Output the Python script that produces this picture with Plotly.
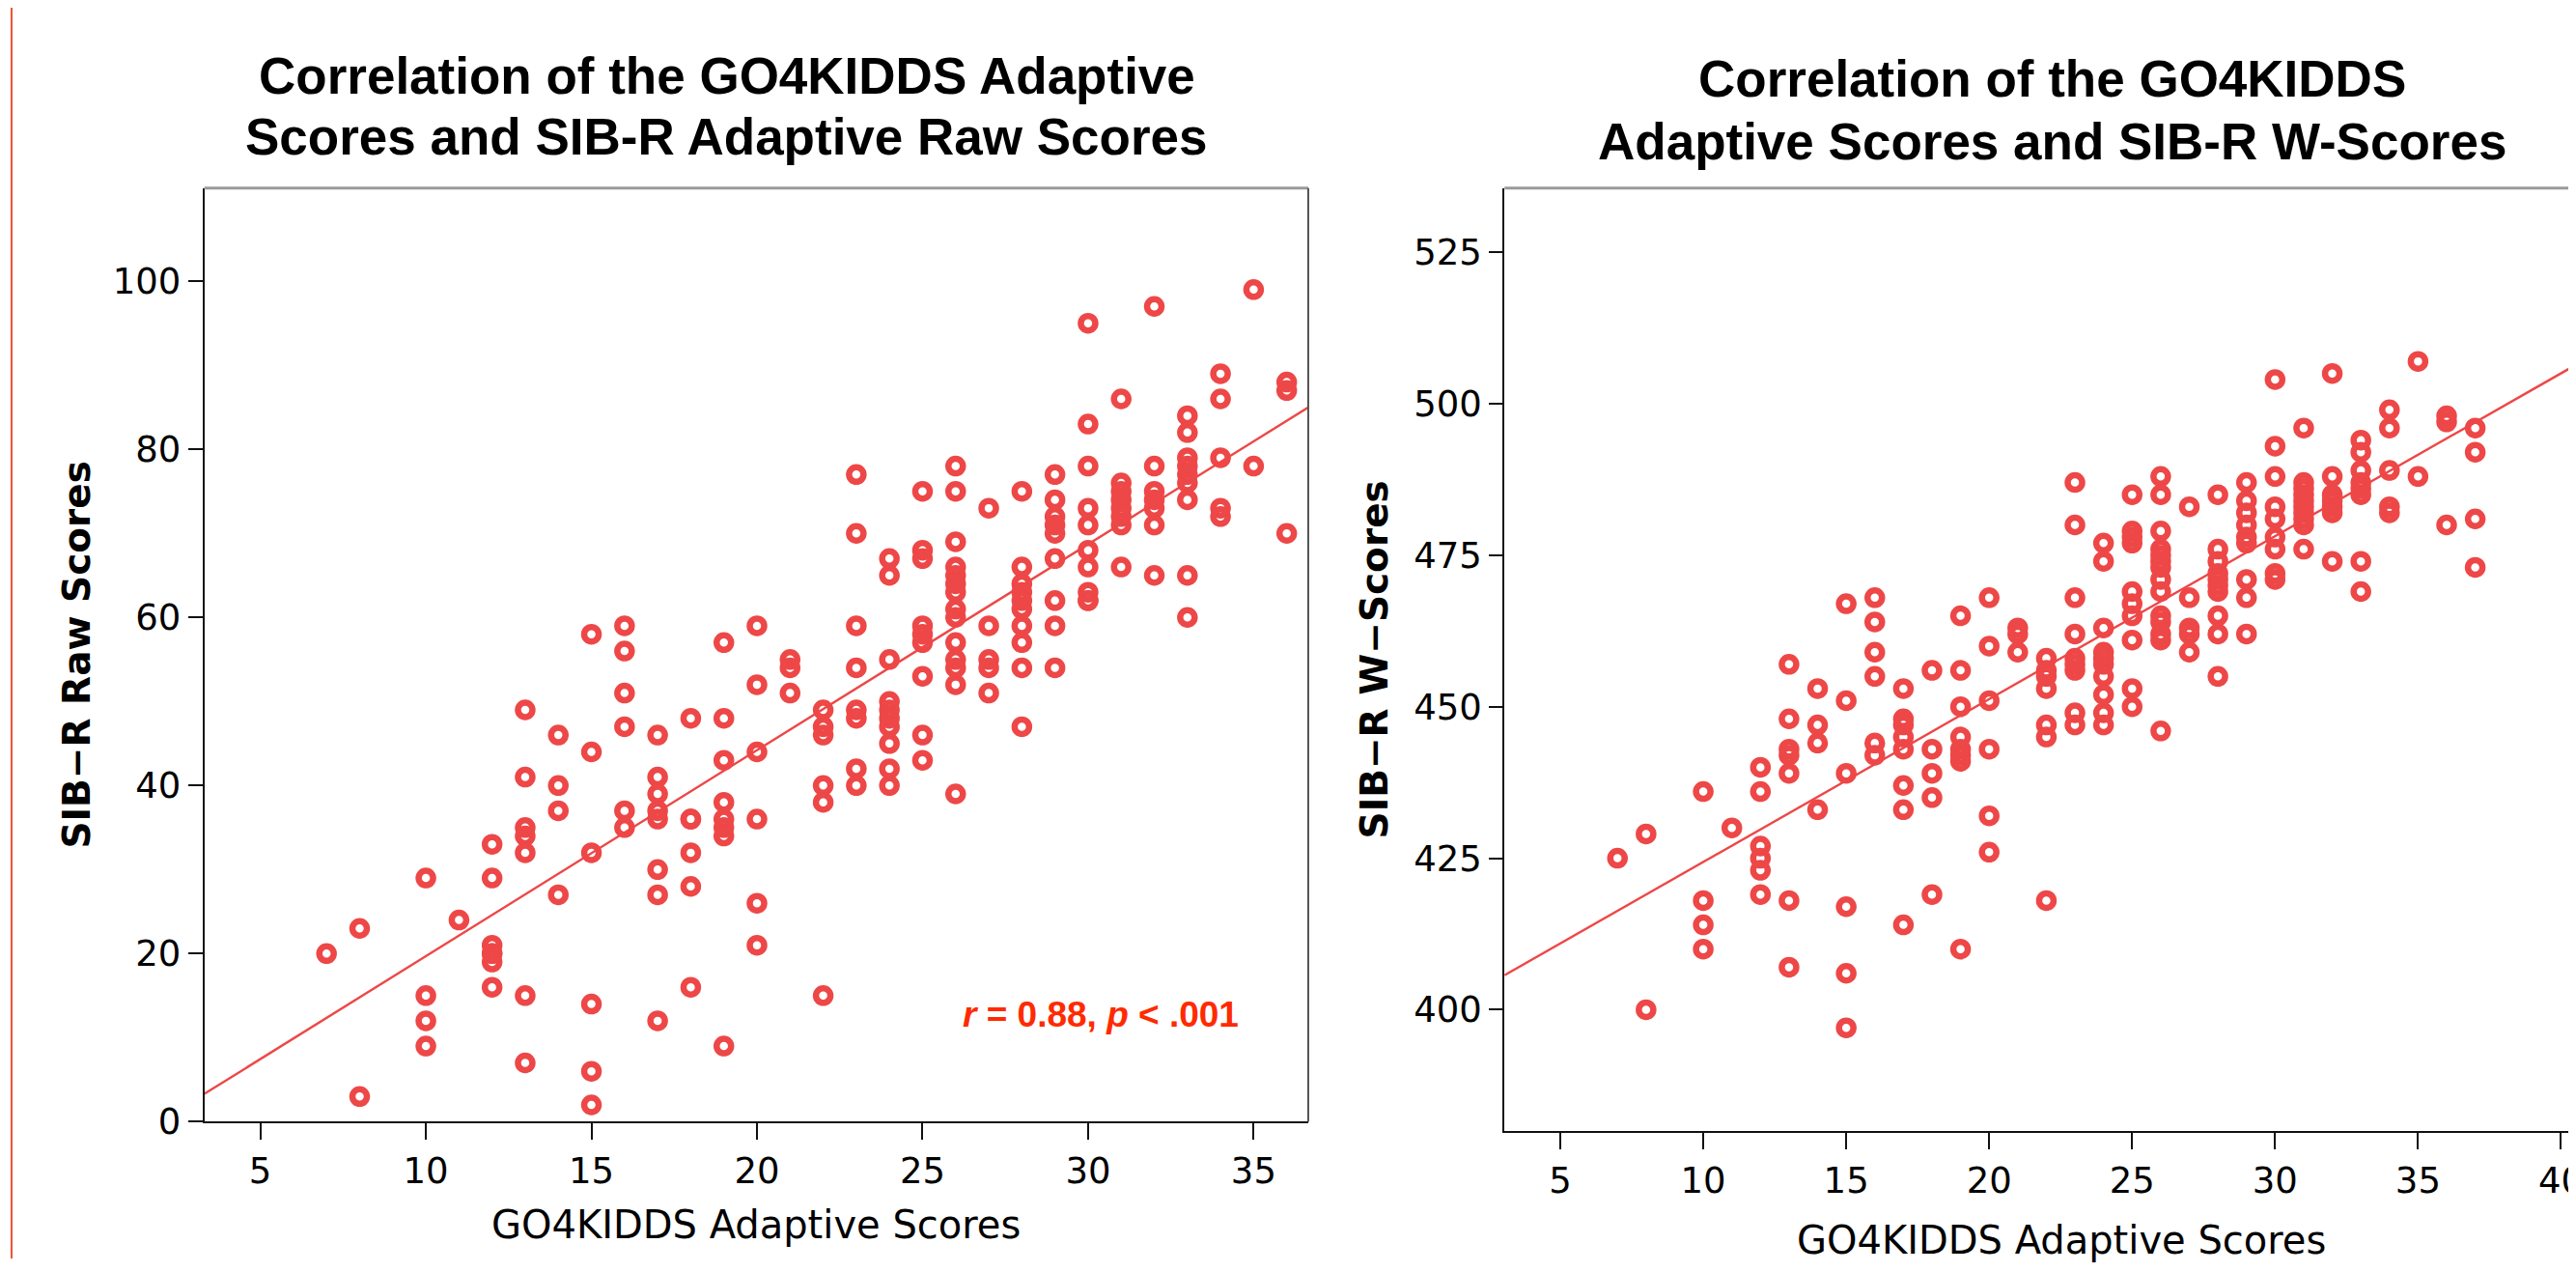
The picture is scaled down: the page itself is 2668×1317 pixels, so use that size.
import plotly.graph_objects as go

W, H = 2668, 1317

# ---------------- data ----------------
# Left panel: GO4KIDDS Adaptive Scores vs SIB-R Adaptive Raw Scores
go4_raw = ([7] + [8]*2 + [10]*4 + [11] + [12]*7 + [13]*7 + [14]*4 + [15]*6 + [16]*6 +
           [17]*8 + [18]*6 + [19]*8 + [20]*6 + [21]*3 + [22]*6 + [23]*8 + [24]*10 +
           [25]*9 + [26]*14 + [27]*5 + [28]*10 + [29]*9 + [30]*10 + [31]*8 + [32]*7 +
           [33]*9 + [34]*5 + [35]*2 + [36]*3)
sibr_raw = [20,
            23, 3,
            29, 15, 12, 9,
            24,
            33, 29, 21, 20, 20, 19, 16,
            49, 41, 35, 34, 32, 15, 7,
            46, 40, 37, 27,
            58, 44, 32, 14, 6, 2,
            59, 56, 51, 47, 37, 35,
            46, 41, 39, 37, 36, 30, 27, 12,
            48, 36, 36, 32, 28, 16,
            57, 48, 43, 38, 36, 35, 34, 9,
            59, 52, 44, 36, 26, 21,
            55, 54, 51,
            49, 47, 46, 40, 38, 15,
            77, 70, 59, 54, 49, 48, 42, 40,
            67, 65, 55, 50, 49, 48, 47, 45, 42, 40,
            75, 68, 67, 59, 58, 57, 53, 46, 43,
            78, 75, 69, 66, 65, 64, 63, 61, 60, 57, 55, 54, 52, 39,
            73, 59, 55, 54, 51,
            75, 66, 64, 63, 62, 61, 59, 57, 54, 47,
            77, 74, 72, 71, 70, 67, 62, 59, 54,
            95, 83, 78, 73, 71, 68, 66, 63, 62, 62,
            86, 76, 75, 74, 73, 72, 71, 66,
            97, 78, 75, 74, 73, 71, 65,
            84, 82, 79, 78, 77, 76, 74, 65, 60,
            89, 86, 79, 73, 72,
            99, 78,
            88, 87, 70]

# Right panel: GO4KIDDS Adaptive Scores vs SIB-R W-Scores
go4_w = ([7] + [8]*2 + [10]*4 + [11] + [12]*6 + [13]*7 + [14]*4 + [15]*6 + [16]*6 +
         [17]*8 + [18]*5 + [19]*8 + [20]*6 + [21]*3 + [22]*7 + [23]*9 + [24]*10 +
         [25]*10 + [26]*14 + [27]*5 + [28]*10 + [29]*9 + [30]*9 + [31]*10 + [32]*7 +
         [33]*8 + [34]*5 + [35]*2 + [36]*3 + [37]*4)
sibr_w = [425,
          429, 400,
          436, 418, 414, 410,
          430,
          440, 436, 427, 425, 423, 419,
          457, 448, 443, 442, 439, 418, 407,
          453, 447, 444, 433,
          467, 451, 439, 417, 406, 397,
          468, 464, 459, 455, 444, 442,
          453, 448, 447, 445, 443, 437, 433, 414,
          456, 443, 439, 435, 419,
          465, 456, 450, 445, 443, 442, 441, 410,
          468, 460, 451, 443, 432, 426,
          463, 462, 459,
          458, 456, 455, 453, 447, 445, 418,
          487, 480, 468, 462, 458, 457, 456, 449, 447,
          477, 474, 463, 459, 458, 457, 455, 452, 449, 447,
          485, 479, 478, 477, 469, 467, 465, 461, 453, 450,
          488, 485, 479, 476, 475, 474, 473, 471, 469, 465, 464, 462, 461, 446,
          483, 468, 463, 462, 459,
          485, 476, 474, 472, 471, 470, 469, 465, 462, 455,
          487, 484, 482, 480, 478, 477, 471, 468, 462,
          504, 493, 488, 483, 481, 478, 476, 472, 471,
          496, 487, 486, 485, 484, 483, 482, 481, 480, 476,
          505, 488, 485, 484, 483, 482, 474,
          494, 492, 489, 487, 486, 485, 474, 469,
          499, 496, 489, 483, 482,
          507, 488,
          498, 497, 480,
          496, 492, 481, 473]

# fit lines (intercept, slope) as drawn in the picture
fit_raw = (-4.8, 2.45)
fit_w = (397.5, 2.688)

x_ticks_left = [5, 10, 15, 20, 25, 30, 35]
y_ticks_left = [0, 20, 40, 60, 80, 100]
x_ticks_right = [5, 10, 15, 20, 25, 30, 35, 40]
y_ticks_right = [400, 425, 450, 475, 500, 525]

title_left = ["Correlation of the GO4KIDDS Adaptive", "Scores and SIB-R Adaptive Raw Scores"]
title_right = ["Correlation of the GO4KIDDS", "Adaptive Scores and SIB-R W-Scores"]
xlabel = "GO4KIDDS Adaptive Scores"
ylabel_left = "SIB\u2212R Raw Scores"
ylabel_right = "SIB\u2212R W\u2212Scores"
stat_text = "<b><i>r</i> = 0.88, <i>p</i> &lt; .001</b>"

# ---------------- layout helpers ----------------
def px(p):
    return p / W

def py(p):
    return 1 - p / H

XR_L = [3.311, 36.65]
YR_L = [0, 111.07]
XR_R = [3.05, 40.66]
YR_R = [379.94, 535.58]

PT_COLOR = "#EE4747"
TICK_FONT = dict(family="DejaVu Sans", size=37, color="#000000")

fig = go.Figure()

marker = dict(symbol="circle-open", size=15, color=PT_COLOR,
              line=dict(width=6.5, color=PT_COLOR))

fig.add_trace(go.Scatter(x=go4_raw, y=sibr_raw, mode="markers", marker=marker,
                         xaxis="x", yaxis="y", hoverinfo="x+y"))
fig.add_trace(go.Scatter(x=XR_L, y=[fit_raw[0] + fit_raw[1] * v for v in XR_L],
                         mode="lines", line=dict(color=PT_COLOR, width=2.4),
                         xaxis="x", yaxis="y", hoverinfo="skip"))
fig.add_trace(go.Scatter(x=go4_w, y=sibr_w, mode="markers", marker=marker,
                         xaxis="x2", yaxis="y2", hoverinfo="x+y"))
fig.add_trace(go.Scatter(x=XR_R, y=[fit_w[0] + fit_w[1] * v for v in XR_R],
                         mode="lines", line=dict(color=PT_COLOR, width=2.4),
                         xaxis="x2", yaxis="y2", hoverinfo="skip"))

axis_common = dict(showgrid=False, zeroline=False, showline=True, linecolor="#111111",
                   linewidth=2, ticks="outside", tickcolor="#111111", tickwidth=2,
                   tickfont=TICK_FONT, ticklabeloverflow="allow")

fig.update_layout(
    width=W, height=H,
    margin=dict(l=0, r=0, t=0, b=0),
    paper_bgcolor="white", plot_bgcolor="white",
    showlegend=False,
    xaxis=dict(domain=[px(204), px(1349)], range=XR_L, tickvals=x_ticks_left,
               ticklen=17, anchor="y", **axis_common),
    yaxis=dict(domain=[py(1173), py(190)], range=YR_L, tickvals=y_ticks_left,
               ticklen=15, anchor="x", **axis_common),
    xaxis2=dict(domain=[px(1552.6), 1.0], range=XR_R, tickvals=x_ticks_right,
                ticklen=17, anchor="y2", **axis_common),
    yaxis2=dict(domain=[py(1183), py(190)], range=YR_R, tickvals=y_ticks_right,
                ticklen=14, anchor="x2", **axis_common),
)

shapes = [
    # top frame lines
    dict(type="line", xref="paper", yref="paper", x0=px(204), x1=px(1349),
         y0=py(190), y1=py(190), line=dict(color="#9a9a9a", width=3)),
    dict(type="line", xref="paper", yref="paper", x0=px(1552.6), x1=1.0,
         y0=py(190), y1=py(190), line=dict(color="#9a9a9a", width=3)),
    # right frame line of the left panel
    dict(type="line", xref="paper", yref="paper", x0=px(1349), x1=px(1349),
         y0=py(1173), y1=py(190), line=dict(color="#555555", width=2)),
    # thin red edge at the far left
    dict(type="line", xref="paper", yref="paper", x0=px(4), x1=px(4),
         y0=0, y1=1, line=dict(color="#EE5533", width=2)),
]
fig.update_layout(shapes=shapes)

TITLE_FONT = dict(family="Liberation Sans, Arial, sans-serif", size=53, color="#000000")
ann = []
for text, cx, cy in [(title_left[0], 746, 72), (title_left[1], 746, 136),
                     (title_right[0], 2121, 75), (title_right[1], 2121, 141)]:
    ann.append(dict(text="<b>" + text + "</b>", x=px(cx), y=py(cy), xref="paper", yref="paper",
                    xanchor="center", yanchor="middle", showarrow=False, font=TITLE_FONT))

XT_FONT = dict(family="DejaVu Sans", size=40, color="#000000")
YT_FONT = dict(family="DejaVu Sans", size=39, color="#000000")
ann.append(dict(text=xlabel, x=px(776), y=py(1281), xref="paper", yref="paper",
                xanchor="center", yanchor="middle", showarrow=False, font=XT_FONT))
ann.append(dict(text=xlabel, x=px(2130), y=py(1298), xref="paper", yref="paper",
                xanchor="center", yanchor="middle", showarrow=False, font=XT_FONT))
ann.append(dict(text="<b>" + ylabel_left + "</b>", x=px(72), y=py(681), xref="paper",
                yref="paper", xanchor="center", yanchor="middle", textangle=-90,
                showarrow=False, font=YT_FONT))
ann.append(dict(text="<b>" + ylabel_right + "</b>", x=px(1418), y=py(686), xref="paper",
                yref="paper", xanchor="center", yanchor="middle", textangle=-90,
                showarrow=False, font=YT_FONT))
ann.append(dict(text=stat_text, x=px(1134), y=py(1060), xref="paper", yref="paper",
                xanchor="center", yanchor="middle", showarrow=False,
                font=dict(family="Liberation Sans, Arial, sans-serif", size=37, color="#FF2A00")))
fig.update_layout(annotations=ann)

fig.write_html("out.html")
